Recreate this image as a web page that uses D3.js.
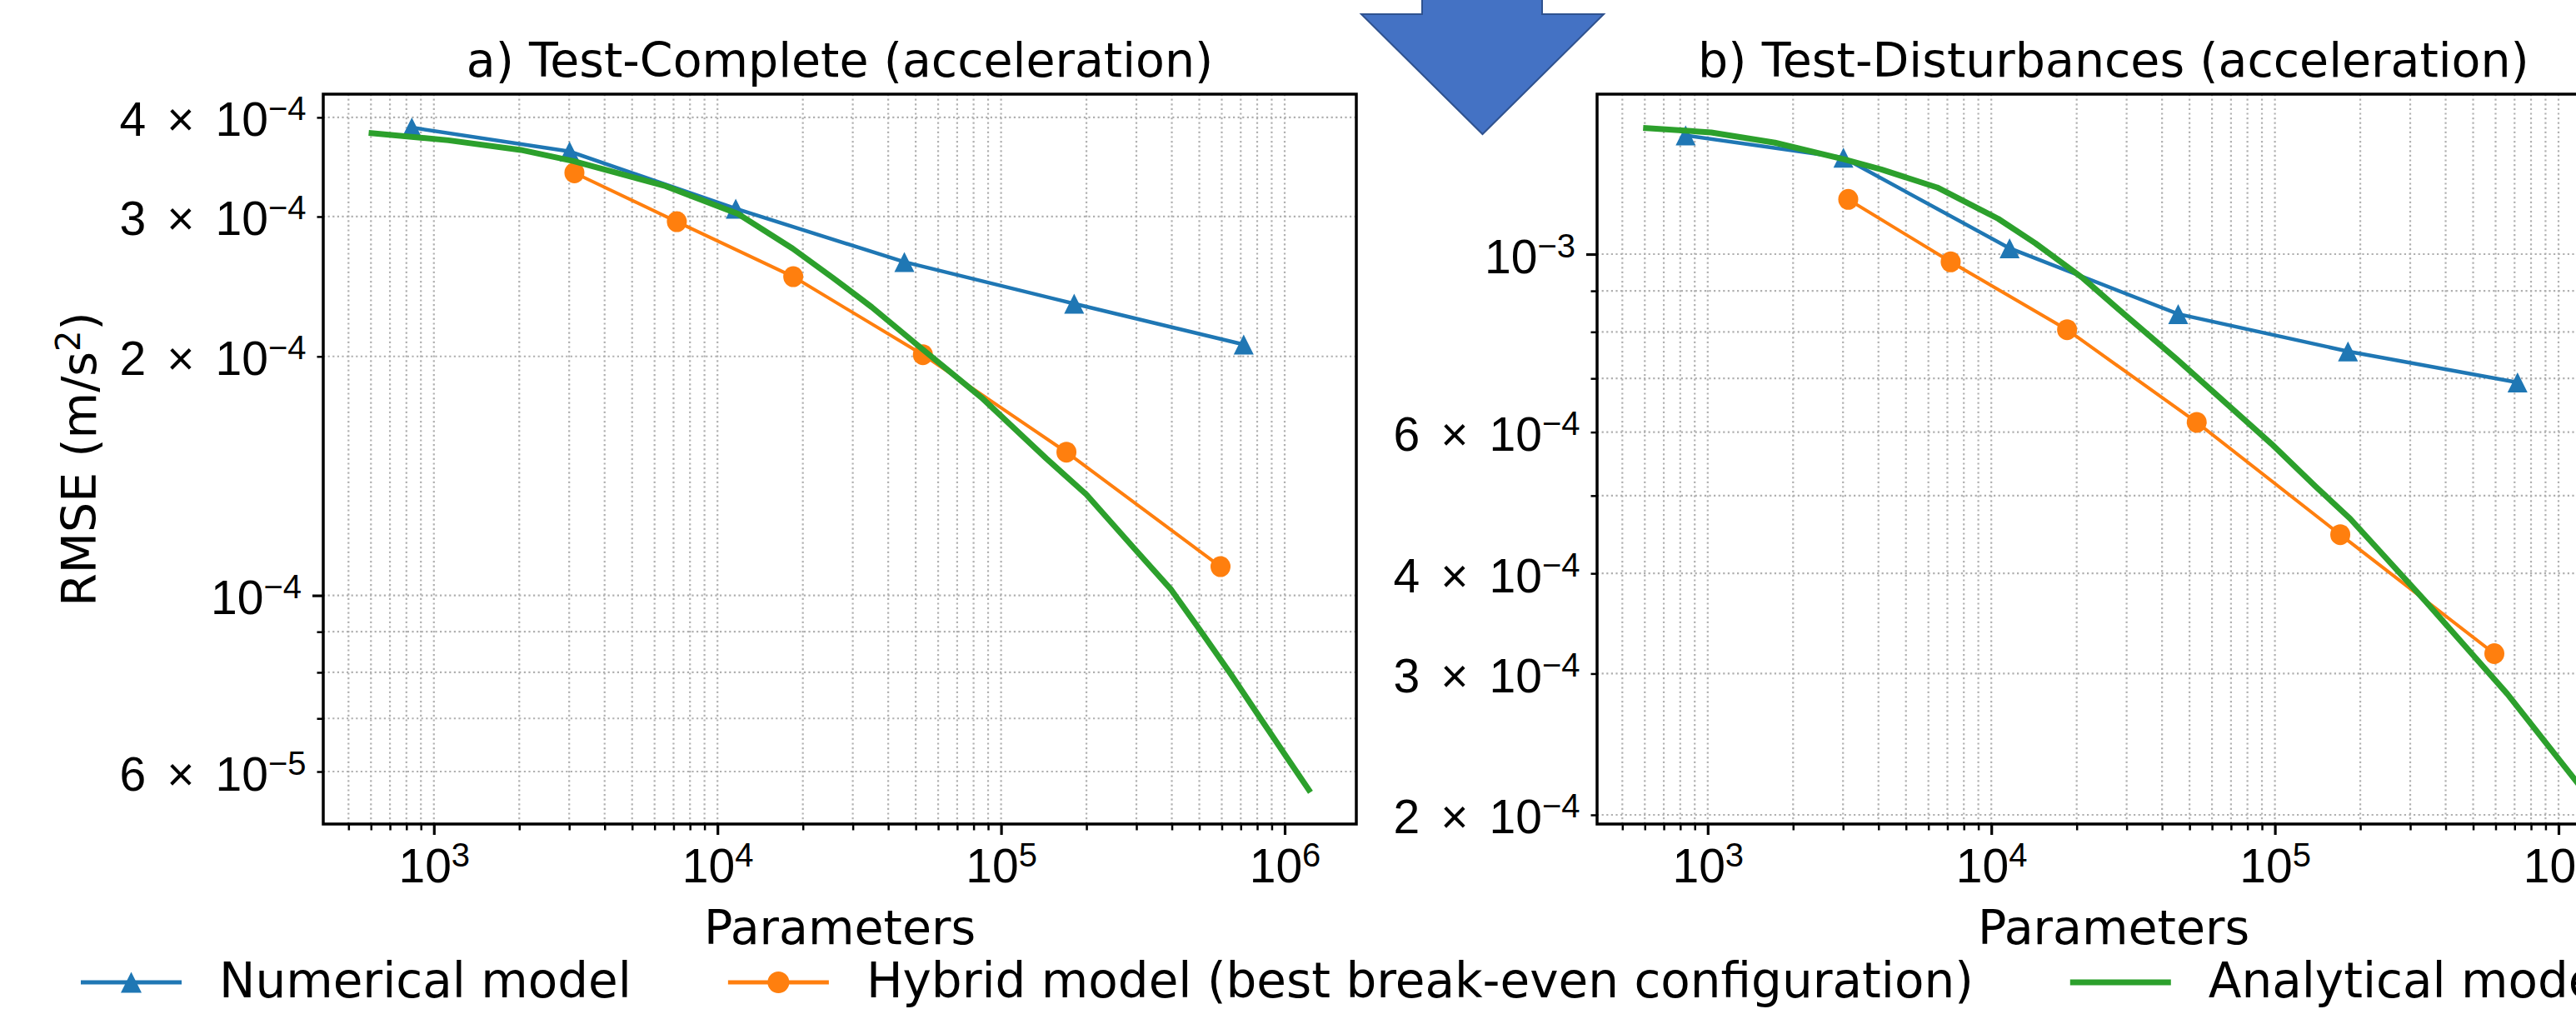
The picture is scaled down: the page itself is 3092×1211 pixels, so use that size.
<!DOCTYPE html>
<html>
<head>
<meta charset="utf-8">
<script src="https://cdn.jsdelivr.net/npm/d3@7"></script>
<style>
  body { margin: 0; background: #fff; overflow: hidden; }
  svg { display: block; font-family: "DejaVu Sans", sans-serif; }
</style>
</head>
<body>
<div id="chart"></div>
<script>
// Values (parameters vs. RMSE in m/s^2)
const numParams = [836, 3010, 11600, 45600, 181000, 717000];
const numRmseA = [3.884e-4, 3.624e-4, 3.07e-4, 2.63e-4, 2.33e-4, 2.07e-4];
const numRmseB = [1.406e-3, 1.319e-3, 1.017e-3, 8.42e-4, 7.565e-4, 6.92e-4];

const hybParams = [3130, 7190, 18500, 53000, 170000, 594000];
const hybRmseA = [3.406e-4, 2.956e-4, 2.52e-4, 2.01e-4, 1.515e-4, 1.087e-4];
const hybRmseB = [1.170e-3, 9.78e-4, 8.05e-4, 6.17e-4, 4.47e-4, 3.177e-4];

const anaParamsA = [589, 1125, 2024, 3108, 6570, 11830, 18400, 25600, 35000, 52500, 85150,
  144200, 199900, 298000, 396000, 512000, 644000, 833000, 1000000, 1233000];
const anaRmseA = [3.825e-4, 3.743e-4, 3.64e-4, 3.524e-4, 3.277e-4, 3.023e-4, 2.735e-4, 2.51e-4,
  2.307e-4, 2.046e-4, 1.776e-4, 1.488e-4, 1.34e-4, 1.141e-4, 1.019e-4, 8.96e-5, 7.97e-5,
  6.95e-5, 6.31e-5, 5.65e-5];

const anaParamsB = [592, 1029, 1726, 3019, 4095, 6440, 10570, 14290, 21060, 29730, 45000,
  97300, 139000, 184200, 340000, 660000, 1151000, 1233000];
const anaRmseB = [1.437e-3, 1.418e-3, 1.377e-3, 1.313e-3, 1.275e-3, 1.211e-3, 1.107e-3,
  1.032e-3, 9.33e-4, 8.39e-4, 7.40e-4, 5.80e-4, 5.135e-4, 4.68e-4, 3.69e-4, 2.83e-4,
  2.205e-4, 2.14e-4];

// tick labels
const xLabelTicks = [1e3, 1e4, 1e5, 1e6];
const yLabelTicksA = [6e-5, 1e-4, 2e-4, 3e-4, 4e-4];
const yLabelTicksB = [2e-4, 3e-4, 4e-4, 6e-4, 1e-3];

const titles = ["a) Test-Complete (acceleration)", "b) Test-Disturbances (acceleration)"];
const seriesNames = ["Numerical model", "Hybrid model (best break-even configuration)", "Analytical model"];
const colors = ["#1f77b4", "#ff7f0e", "#2ca02c"];

// Layout
const width = 3092, height = 1211;
const plotTop = 113, plotBottom = 989, plotW = 1240;
const xDomain = [407.3, 1.789e6];
const fontSize = 57, supSize = 40, supShift = 19;

const svg = d3.select("#chart").append("svg")
    .attr("width", width)
    .attr("height", height);

const panels = [
    {left: 388, title: titles[0], yDomain: [5.153e-5, 4.279e-4], yLabels: yLabelTicksA,
     num: numRmseA, hyb: hybRmseA, anaX: anaParamsA, anaY: anaRmseA},
    {left: 1917, title: titles[1], yDomain: [1.948e-4, 1.5828e-3], yLabels: yLabelTicksB,
     num: numRmseB, hyb: hybRmseB, anaX: anaParamsB, anaY: anaRmseB}
];

const isMajor = v => Math.abs(Math.log10(v) - Math.round(Math.log10(v))) < 1e-6;
const inList = (v, list) => list.some(t => Math.abs(t - v) / t < 1e-6);

// "m × 10^e" label with a real superscript
function sciLabel(text, v) {
    const e = Math.round(Math.floor(Math.log10(v) + 1e-9));
    const m = Math.round(v / Math.pow(10, e));
    if (m === 1) {
        text.append("tspan").text("10");
    } else {
        text.append("tspan").text(m);
        text.append("tspan").attr("dx", 25).text("×");
        text.append("tspan").attr("dx", 25).text("10");
    }
    text.append("tspan")
        .attr("dy", -supShift)
        .attr("font-size", supSize)
        .text((e < 0 ? "\u2212" : "") + Math.abs(e));
}

function trianglePath(s) {
    return `M0,${-s / 2}L${s / 2},${s / 2}L${-s / 2},${s / 2}Z`;
}

function drawPanel(p) {
    const x = d3.scaleLog().domain(xDomain).range([p.left, p.left + plotW]);
    const y = d3.scaleLog().domain(p.yDomain).range([plotBottom, plotTop]);
    const g = svg.append("g");

    const xt = x.ticks().filter(v => v >= xDomain[0] && v <= xDomain[1]);
    const yt = y.ticks().filter(v => v >= p.yDomain[0] && v <= p.yDomain[1]);

    // grid (both major and minor, dotted)
    const grid = g.append("g")
        .attr("stroke", "#b0b0b0")
        .attr("stroke-width", 2.2)
        .attr("stroke-dasharray", "2.2,3.4");
    grid.selectAll(".gx").data(xt).join("line")
        .attr("x1", d => x(d)).attr("x2", d => x(d))
        .attr("y1", plotTop).attr("y2", plotBottom);
    grid.selectAll(".gy").data(yt).join("line")
        .attr("x1", p.left).attr("x2", p.left + plotW)
        .attr("y1", d => y(d)).attr("y2", d => y(d));

    const line = d3.line().x(d => x(d[0])).y(d => y(d[1]));

    // Numerical model
    const numData = numParams.map((v, i) => [v, p.num[i]]);
    g.append("path").datum(numData)
        .attr("fill", "none").attr("stroke", colors[0]).attr("stroke-width", 4.5)
        .attr("d", line);
    g.append("g").selectAll("path").data(numData).join("path")
        .attr("transform", d => `translate(${x(d[0])},${y(d[1])})`)
        .attr("d", trianglePath(24))
        .attr("fill", colors[0]);

    // Hybrid model
    const hybData = hybParams.map((v, i) => [v, p.hyb[i]]);
    g.append("path").datum(hybData)
        .attr("fill", "none").attr("stroke", colors[1]).attr("stroke-width", 4)
        .attr("d", line);
    g.append("g").selectAll("ellipse").data(hybData).join("ellipse")
        .attr("cx", d => x(d[0])).attr("cy", d => y(d[1]))
        .attr("rx", 12).attr("ry", 12.5)
        .attr("fill", colors[1]);

    // Analytical model
    const anaData = p.anaX.map((v, i) => [v, p.anaY[i]]);
    g.append("path").datum(anaData)
        .attr("fill", "none").attr("stroke", colors[2]).attr("stroke-width", 7)
        .attr("stroke-linejoin", "round")
        .attr("d", line);

    // frame
    g.append("rect")
        .attr("x", p.left).attr("y", plotTop)
        .attr("width", plotW).attr("height", plotBottom - plotTop)
        .attr("fill", "none").attr("stroke", "#000").attr("stroke-width", 3.5);

    // x axis ticks
    const xMinor = g.append("g").attr("transform", `translate(0,${plotBottom})`)
        .call(d3.axisBottom(x).tickValues(xt.filter(v => !isMajor(v))).tickSize(7.5).tickFormat(""));
    const xMajor = g.append("g").attr("transform", `translate(0,${plotBottom})`)
        .call(d3.axisBottom(x).tickValues(xt.filter(isMajor)).tickSize(13).tickFormat(""));
    [xMinor, xMajor].forEach(a => {
        a.select(".domain").remove();
        a.selectAll("text").remove();
        a.selectAll("line").attr("stroke", "#000").attr("stroke-width", a === xMajor ? 3.2 : 2.5);
    });
    xMajor.selectAll(".tick").filter(d => inList(d, xLabelTicks))
        .append("text")
        .attr("y", 70)
        .attr("fill", "#000")
        .attr("font-size", fontSize)
        .attr("text-anchor", "middle")
        .each(function(d) { sciLabel(d3.select(this), d); });

    // y axis ticks
    const yMinor = g.append("g").attr("transform", `translate(${p.left},0)`)
        .call(d3.axisLeft(y).tickValues(yt.filter(v => !isMajor(v))).tickSize(7.5).tickFormat(""));
    const yMajor = g.append("g").attr("transform", `translate(${p.left},0)`)
        .call(d3.axisLeft(y).tickValues(yt.filter(isMajor)).tickSize(13).tickFormat(""));
    [yMinor, yMajor].forEach(a => {
        const len = a === yMajor ? 13 : 7.5;
        a.select(".domain").remove();
        a.selectAll("text").remove();
        a.selectAll("line").attr("stroke", "#000").attr("stroke-width", a === yMajor ? 3.2 : 2.5);
        a.selectAll(".tick").filter(d => inList(d, p.yLabels))
            .append("text")
            .attr("x", -(len + 13))
            .attr("y", 22)
            .attr("fill", "#000")
            .attr("font-size", fontSize)
            .attr("text-anchor", "end")
            .each(function(d) { sciLabel(d3.select(this), d); });
    });

    // title and x label
    svg.append("text")
        .attr("x", p.left + plotW / 2).attr("y", 92)
        .attr("text-anchor", "middle").attr("font-size", fontSize)
        .text(p.title);
    svg.append("text")
        .attr("x", p.left + plotW / 2).attr("y", 1133)
        .attr("text-anchor", "middle").attr("font-size", fontSize)
        .text("Parameters");
}

panels.forEach(drawPanel);

// y label (only on the first panel)
const yl = svg.append("text")
    .attr("transform", `translate(115,${(plotTop + plotBottom) / 2}) rotate(-90)`)
    .attr("text-anchor", "middle")
    .attr("font-size", fontSize);
yl.append("tspan").text("RMSE (m/s");
yl.append("tspan").attr("dy", -supShift).attr("font-size", supSize).text("2");
yl.append("tspan").attr("dy", supShift).text(")");

// Legend along the bottom
const legend = svg.append("g");
let lx = 97;
const ly = 1179, handleLen = 121;
seriesNames.forEach((name, i) => {
    const item = legend.append("g");
    item.append("line")
        .attr("x1", lx).attr("x2", lx + handleLen)
        .attr("y1", ly).attr("y2", ly)
        .attr("stroke", colors[i]).attr("stroke-width", i === 2 ? 7 : 5);
    if (i === 0) {
        item.append("path")
            .attr("transform", `translate(${lx + handleLen / 2},${ly})`)
            .attr("d", trianglePath(25)).attr("fill", colors[i]);
    } else if (i === 1) {
        item.append("ellipse")
            .attr("cx", lx + handleLen / 2).attr("cy", ly)
            .attr("rx", 13).attr("ry", 13).attr("fill", colors[i]);
    }
    const t = item.append("text")
        .attr("x", lx + handleLen + 45).attr("y", 1197)
        .attr("font-size", 58)
        .text(name);
    lx = lx + handleLen + 45 + t.node().getComputedTextLength() + 116;
});

// Big blue arrow overlaid between the panels
svg.append("path")
    .attr("d", "M1707,-5L1851,-5L1851,17L1925,17L1779.5,161L1634,17L1707,17Z")
    .attr("fill", "#4472c4")
    .attr("stroke", "#2f528f")
    .attr("stroke-width", 2);
</script>
</body>
</html>
